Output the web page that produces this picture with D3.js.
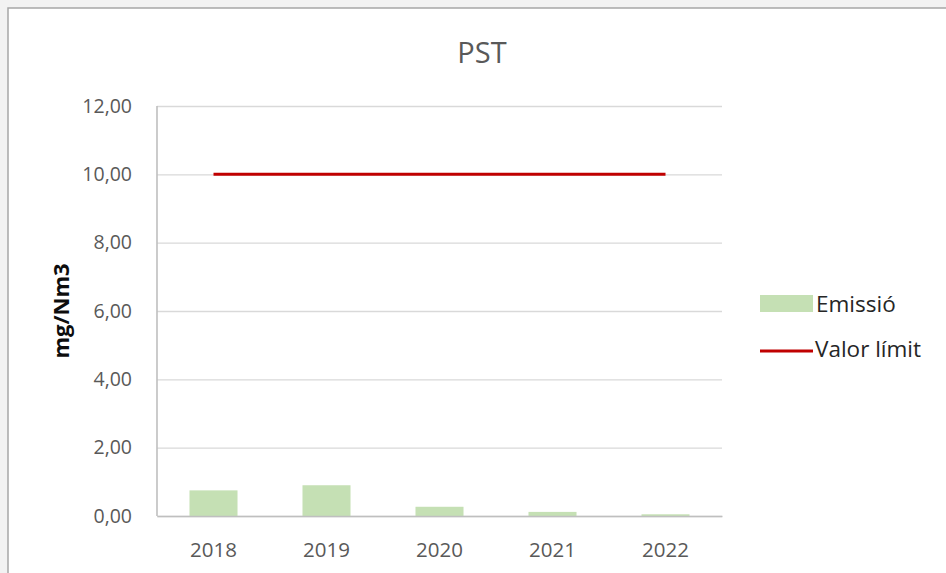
<!DOCTYPE html>
<html><head><meta charset="utf-8">
<script src="https://cdn.jsdelivr.net/npm/d3@7"></script>
<style>
html,body{margin:0;padding:0;background:#f2f2f2;}
svg{display:block;}
text{font-family:"Open Sans",sans-serif;fill:#595959;}
</style></head>
<body>
<svg id="chart" width="946" height="573"></svg>
<script>
const categories = ["2018","2019","2020","2021","2022"];
const emissio = [0.75, 0.90, 0.27, 0.12, 0.05];
const valorLimit = [10, 10, 10, 10, 10];
const yTicks = [0, 2, 4, 6, 8, 10, 12];
const title = "PST";
const yTitle = "mg/Nm3";
const legendLabels = ["Emissió", "Valor límit"];

const svg = d3.select("#chart");
svg.append("rect").attr("x",8).attr("y",8).attr("width",960).attr("height",600)
  .attr("fill","#ffffff").attr("stroke","#a6a6a6").attr("stroke-width",1.5);

const x = d3.scaleBand().domain(categories).range([157,722]).paddingInner(0.575).paddingOuter(0.2875);
const y = d3.scaleLinear().domain([0,12]).range([516,106]);
const fmt = d => d.toFixed(2).replace(".", ",");

// grid
const yAxis = d3.axisLeft(y).tickValues(yTicks).tickSize(-(722-157)).tickFormat(fmt).tickPadding(25);
const gy = svg.append("g").attr("transform","translate(157,0)").call(yAxis);
gy.select(".domain").remove();
gy.selectAll(".tick line").attr("stroke","#d9d9d9").attr("stroke-width",1.3);
gy.selectAll(".tick text").attr("font-size",19.5).attr("fill","#595959").attr("font-family","'Open Sans',sans-serif");

// bars
svg.append("g").selectAll("rect").data(categories).join("rect")
  .attr("x", d => x(d)).attr("width", x.bandwidth())
  .attr("y", (d,i) => y(emissio[i])).attr("height", (d,i) => y(0) - y(emissio[i]))
  .attr("fill","#c5e0b4");

// x axis
const xAxis = d3.axisBottom(x).tickSize(0).tickPadding(26);
const gx = svg.append("g").attr("transform","translate(0,516)").call(xAxis);
gx.select(".domain").attr("stroke","#bfbfbf").attr("stroke-width",1.6);
gx.selectAll(".tick text").attr("font-size",20.5).attr("fill","#595959").attr("font-family","'Open Sans',sans-serif");
// left axis line
svg.append("line").attr("x1",157).attr("x2",157).attr("y1",y(12)).attr("y2",y(0))
  .attr("stroke","#bfbfbf").attr("stroke-width",1.6);

// limit line
const line = d3.line().x((d,i) => x(categories[i]) + x.bandwidth()/2).y(d => y(d));
svg.append("path").datum(valorLimit).attr("d", line)
  .attr("fill","none").attr("stroke","#c00000").attr("stroke-width",3);

// title
svg.append("text").attr("x",482).attr("y",63).attr("text-anchor","middle")
  .attr("font-size",29).text(title);
// y title
svg.append("text").attr("transform","translate(69,311) rotate(-90)").attr("text-anchor","middle")
  .attr("font-size",22).attr("font-weight","bold").style("fill","#0d0d0d").text(yTitle);

// legend
const lg = svg.append("g");
lg.append("rect").attr("x",760).attr("y",295).attr("width",53).attr("height",17).attr("fill","#c5e0b4");
lg.append("text").attr("x",816).attr("y",312).attr("font-size",22.5).style("fill","#262626").text(legendLabels[0]);
lg.append("line").attr("x1",760).attr("x2",813).attr("y1",351).attr("y2",351).attr("stroke","#c00000").attr("stroke-width",3);
lg.append("text").attr("x",815).attr("y",357).attr("font-size",22.5).style("fill","#262626").text(legendLabels[1]);
</script>
</body></html>
